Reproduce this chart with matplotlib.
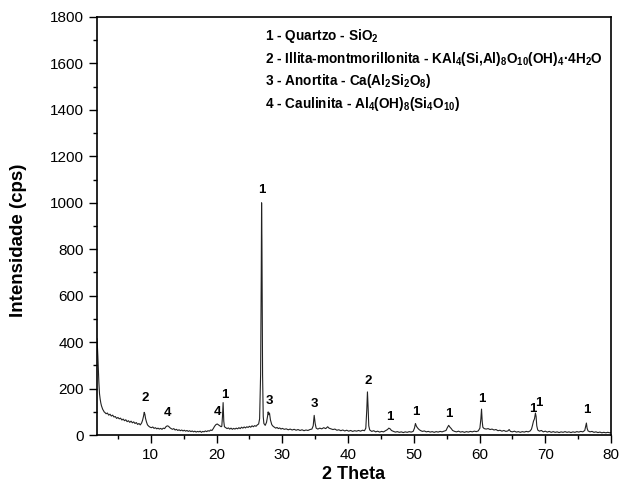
import matplotlib
matplotlib.use("Agg")
import matplotlib.pyplot as plt
from matplotlib.ticker import MultipleLocator

plt.rcParams['font.family'] = ['Liberation Sans', 'DejaVu Sans']
plt.rcParams['mathtext.fontset'] = 'custom'
plt.rcParams['mathtext.bf'] = 'Liberation Sans:bold'
plt.rcParams['mathtext.rm'] = 'Liberation Sans:bold'
plt.rcParams['mathtext.default'] = 'bf'

# difratograma: (2 theta, intensidade em cps)
pattern = [
    (1.8, 415), (1.85, 400), (1.9, 372), (1.95, 340), (2.0, 300), (2.05, 262), (2.1, 228),
    (2.15, 200), (2.2, 178), (2.3, 155), (2.4, 138), (2.5, 126), (2.6, 118), (2.7, 110),
    (2.8, 106), (2.9, 100), (3.0, 98), (3.2, 92), (3.4, 95), (3.6, 86), (3.8, 90), (4.0, 82),
    (4.2, 86), (4.4, 78), (4.6, 80), (4.8, 72), (5.0, 76), (5.2, 70), (5.4, 73), (5.6, 65),
    (5.8, 69), (6.0, 62), (6.2, 66), (6.4, 58), (6.6, 62), (6.8, 55), (7.0, 60), (7.2, 53),
    (7.4, 57), (7.6, 50), (7.8, 54), (8.0, 46), (8.2, 50), (8.4, 44), (8.6, 52), (8.75, 64),
    (8.9, 82), (9.0, 98), (9.1, 90), (9.2, 72), (9.35, 56), (9.5, 44), (9.7, 38), (9.9, 34),
    (10.1, 32), (10.3, 35), (10.5, 29), (10.7, 32), (10.9, 27), (11.1, 30), (11.3, 26),
    (11.5, 29), (11.7, 25), (11.9, 30), (12.1, 28), (12.3, 36), (12.5, 40), (12.7, 38),
    (12.9, 32), (13.1, 28), (13.3, 25), (13.5, 28), (13.7, 22), (13.9, 25), (14.1, 20),
    (14.3, 23), (14.5, 19), (14.7, 22), (14.9, 18), (15.1, 21), (15.3, 17), (15.5, 20),
    (15.7, 16), (15.9, 19), (16.1, 15), (16.3, 18), (16.5, 14), (16.7, 17), (16.9, 13),
    (17.1, 16), (17.3, 14), (17.5, 17), (17.7, 12), (17.9, 16), (18.1, 14), (18.3, 18),
    (18.5, 15), (18.7, 19), (18.9, 17), (19.1, 22), (19.3, 20), (19.5, 28), (19.7, 38),
    (19.9, 45), (20.1, 48), (20.3, 44), (20.5, 40), (20.7, 36), (20.8, 38), (20.9, 80),
    (21.0, 140), (21.1, 60), (21.2, 36), (21.4, 32), (21.6, 28), (21.8, 31), (22.0, 26),
    (22.2, 30), (22.4, 25), (22.6, 29), (22.8, 26), (23.0, 30), (23.2, 27), (23.4, 32),
    (23.6, 28), (23.8, 34), (24.0, 30), (24.2, 35), (24.4, 31), (24.6, 36), (24.8, 33),
    (25.0, 38), (25.2, 34), (25.4, 40), (25.6, 36), (25.8, 41), (26.0, 38), (26.2, 44),
    (26.4, 48), (26.55, 70), (26.7, 260), (26.8, 700), (26.85, 1000), (26.9, 840),
    (27.0, 260), (27.1, 80), (27.2, 50), (27.4, 42), (27.6, 55), (27.75, 80), (27.85, 100),
    (27.95, 88), (28.05, 95), (28.2, 65), (28.4, 45), (28.6, 38), (28.8, 34), (29.0, 30),
    (29.2, 33), (29.4, 28), (29.6, 31), (29.8, 26), (30.0, 29), (30.3, 25), (30.6, 27),
    (30.9, 23), (31.2, 26), (31.5, 22), (31.8, 25), (32.1, 21), (32.4, 24), (32.7, 20),
    (33.0, 23), (33.3, 19), (33.6, 22), (33.9, 20), (34.2, 24), (34.5, 26), (34.7, 40),
    (34.85, 85), (35.0, 50), (35.15, 30), (35.4, 26), (35.7, 30), (36.0, 27), (36.3, 32),
    (36.6, 28), (36.9, 36), (37.1, 30), (37.4, 27), (37.7, 24), (38.0, 26), (38.3, 21),
    (38.6, 23), (38.9, 19), (39.2, 22), (39.5, 18), (39.8, 21), (40.1, 17), (40.4, 20),
    (40.7, 16), (41.0, 19), (41.3, 17), (41.6, 20), (41.9, 17), (42.2, 21), (42.5, 19),
    (42.7, 30), (42.85, 110), (42.95, 186), (43.05, 120), (43.15, 40), (43.3, 22),
    (43.6, 16), (43.9, 19), (44.2, 14), (44.5, 17), (44.8, 13), (45.1, 16), (45.4, 14),
    (45.7, 19), (46.0, 24), (46.2, 30), (46.4, 27), (46.6, 20), (46.9, 16), (47.2, 13),
    (47.5, 15), (47.8, 12), (48.1, 14), (48.4, 11), (48.7, 14), (49.0, 12), (49.3, 15),
    (49.6, 13), (49.9, 16), (50.1, 30), (50.25, 50), (50.4, 38), (50.6, 30), (50.8, 24),
    (51.0, 20), (51.3, 16), (51.6, 18), (51.9, 14), (52.2, 16), (52.5, 13), (52.8, 15),
    (53.1, 12), (53.4, 15), (53.7, 13), (54.0, 16), (54.3, 14), (54.6, 17), (54.9, 20),
    (55.1, 32), (55.3, 42), (55.5, 34), (55.7, 28), (55.9, 20), (56.2, 16), (56.5, 14),
    (56.8, 17), (57.1, 13), (57.4, 15), (57.7, 12), (58.0, 15), (58.3, 13), (58.6, 16),
    (58.9, 14), (59.2, 17), (59.5, 15), (59.8, 18), (60.05, 30), (60.2, 70), (60.3, 112),
    (60.4, 60), (60.5, 34), (60.7, 28), (61.0, 26), (61.3, 28), (61.6, 24), (61.9, 26),
    (62.2, 22), (62.5, 24), (62.8, 19), (63.1, 21), (63.4, 17), (63.7, 20), (64.0, 16),
    (64.3, 18), (64.5, 24), (64.7, 16), (65.0, 14), (65.3, 17), (65.6, 13), (65.9, 15),
    (66.2, 12), (66.5, 15), (66.8, 13), (67.1, 16), (67.4, 14), (67.7, 18), (67.9, 26),
    (68.05, 42), (68.2, 60), (68.35, 70), (68.5, 95), (68.6, 80), (68.7, 40), (68.85, 22),
    (69.1, 17), (69.4, 20), (69.7, 14), (70.0, 17), (70.3, 13), (70.6, 16), (70.9, 12),
    (71.2, 15), (71.5, 12), (71.8, 14), (72.1, 11), (72.4, 14), (72.7, 12), (73.0, 15),
    (73.3, 12), (73.6, 14), (73.9, 11), (74.2, 14), (74.5, 12), (74.8, 15), (75.1, 13),
    (75.4, 16), (75.7, 14), (76.0, 20), (76.15, 40), (76.25, 52), (76.35, 30), (76.5, 18),
    (76.8, 14), (77.1, 16), (77.4, 12), (77.7, 14), (78.0, 11), (78.3, 13), (78.6, 10),
    (78.9, 12), (79.2, 10), (79.5, 12), (79.8, 10), (80.0, 11),
]
two_theta = [p[0] for p in pattern]
cps = [p[1] for p in pattern]

# identificação das fases em cada pico
peak_x = [9.1, 12.6, 20.1, 21.2, 26.9, 28.0, 34.9, 43.0, 46.3, 50.3, 55.3, 60.4, 68.1, 69.0, 76.3]
peak_y = [160, 95, 100, 172, 1055, 147, 134, 233, 78, 99, 90, 155, 112, 138, 108]
peak_id = ['2', '4', '4', '1', '1', '3', '3', '2', '1', '1', '1', '1', '1', '1', '1']

phases = [
    r'1 - Quartzo - SiO$_2$',
    r'2 - Illita-montmorillonita - KAl$_4$(Si,Al)$_8$O$_{10}$(OH)$_4$·4H$_2$O',
    r'3 - Anortita - Ca(Al$_2$Si$_2$O$_8$)',
    r'4 - Caulinita - Al$_4$(OH)$_8$(Si$_4$O$_{10}$)',
]

fig = plt.figure(figsize=(6.21, 4.84), dpi=100)
ax = fig.add_axes([0.156, 0.101, 0.828, 0.864])

ax.plot(two_theta, cps, color='#222222', linewidth=0.8)

for x, y, t in zip(peak_x, peak_y, peak_id):
    ax.text(x, y, t, ha='center', va='center', fontsize=9.5, fontweight='bold')

for i, s in enumerate(phases):
    ax.text(0.327, 0.955 - i * 0.0545, s, transform=ax.transAxes, ha='left', va='center',
            fontsize=9.8, fontweight='bold')

ax.set_xlim(1.8, 80)
ax.set_ylim(0, 1800)
ax.xaxis.set_major_locator(MultipleLocator(10))
ax.xaxis.set_minor_locator(MultipleLocator(5))
ax.yaxis.set_major_locator(MultipleLocator(200))
ax.yaxis.set_minor_locator(MultipleLocator(100))
ax.tick_params(which='major', direction='out', length=6, width=1, labelsize=11)
ax.tick_params(which='minor', direction='out', length=3, width=1)
for sp in ax.spines.values():
    sp.set_linewidth(1.2)

ax.set_xlabel('2 Theta', fontsize=13, fontweight='bold')
ax.set_ylabel('Intensidade (cps)', fontsize=13.5, fontweight='bold')
ax.xaxis.set_label_coords(0.5, -0.074)
ax.yaxis.set_label_coords(-0.136, 0.466)

fig.savefig('out.png', dpi=100)
